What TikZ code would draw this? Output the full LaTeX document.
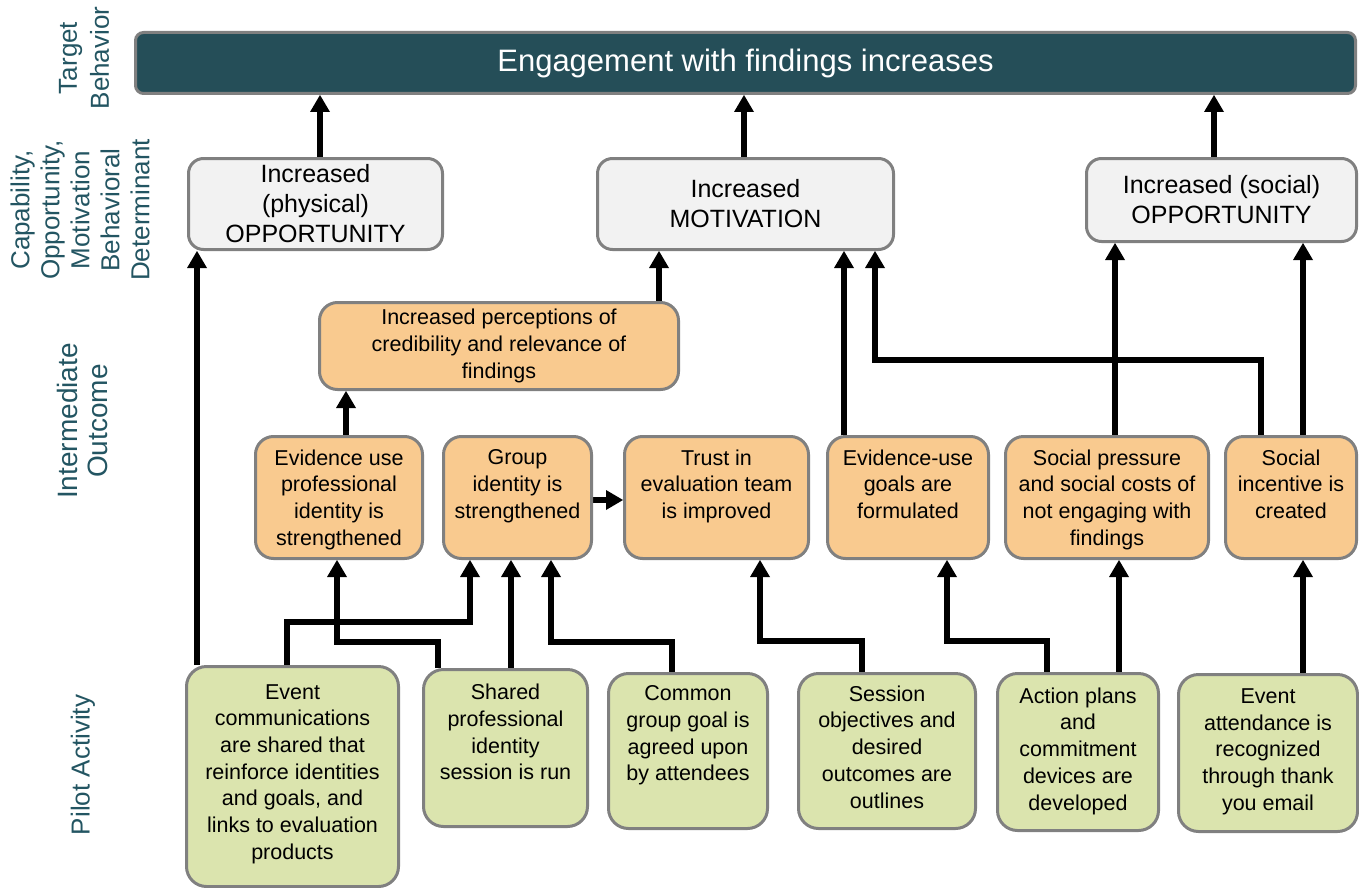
\documentclass[tikz,border=0pt]{standalone}
\usepackage{fontspec}
\setmainfont{Liberation Sans}
\usetikzlibrary{arrows.meta,calc}
\pgfdeclarelayer{bg}
\pgfsetlayers{bg,main}
\definecolor{topfill}{RGB}{37,78,88}
\definecolor{bordgray}{RGB}{128,128,128}
\definecolor{greyfill}{RGB}{242,242,242}
\definecolor{orangefill}{RGB}{249,202,143}
\definecolor{greenfill}{RGB}{219,228,174}
\definecolor{lblcol}{RGB}{35,85,98}
\tikzset{
  basebox/.style={draw=bordgray, line width=3pt, inner sep=0pt},
  topbox/.style={basebox, fill=topfill, rounded corners=8pt},
  topboxtxt/.style={inner sep=0pt, text=white, font=\fontsize{31}{36}\selectfont},
  greybox/.style={basebox, fill=greyfill, rounded corners=15pt},
  greyboxtxt/.style={inner sep=0pt, align=center, font=\fontsize{25}{30}\selectfont},
  orangebox/.style={basebox, fill=orangefill, rounded corners=18pt},
  orangeboxtxt/.style={inner sep=0pt, align=center, font=\fontsize{21.5}{26.7}\selectfont},
  greenbox/.style={basebox, fill=greenfill, rounded corners=20pt},
  greenboxtxt/.style={inner sep=0pt, align=center, font=\fontsize{21.5}{26.7}\selectfont},
  lbl/.style={inner sep=0pt, align=center, rotate=90, text=lblcol, font=\fontsize{26}{30}\selectfont},
  conn/.style={line width=6pt, line join=miter, -{Triangle[width=20pt,length=17pt,line width=0pt]}},
}
% name, style, x, y, width, height, text  (text centred)
\newcommand\boxC[7]{%
  \node[#2, anchor=north west, minimum width=#5pt, minimum height=#6pt] (#1) at (#3,#4) {};
  \node[#2txt] (#1t) at (#1.center) {#7};}
% name, style, x, y, width, height, pad, text (text top aligned)
\newcommand\boxT[8]{%
  \node[#2, anchor=north west, minimum width=#5pt, minimum height=#6pt] (#1) at (#3,#4) {};
  \node[#2txt, anchor=north] (#1t) at ([yshift=-#7pt]#1.north) {#8};}
\begin{document}
\begin{tikzpicture}[x=1pt,y=-1pt]
\useasboundingbox (0,0) rectangle (1359,888);

% left labels
\node[lbl, font=\fontsize{26}{32}\selectfont] (l1) at (84,58) {Target\\Behavior};
\node[lbl] (l2) at (80,210) {Capability,\\Opportunity,\\Motivation\\Behavioral\\Determinant};
\node[lbl, font=\fontsize{28}{30}\selectfont] (l3) at (82,421) {Intermediate\\Outcome};
\node[lbl] (l4) at (83,765) {Pilot Activity};

% target behaviour
\boxC{top}{topbox}{134}{31}{1220}{61}{Engagement with findings increases}

% determinants
\boxC{opp1}{greybox}{187}{157}{254}{91}{Increased\\(physical)\\OPPORTUNITY}
\boxC{mot}{greybox}{596}{157}{296}{91}{Increased\\MOTIVATION}
\boxC{opp2}{greybox}{1085}{157}{270}{83}{Increased (social)\\OPPORTUNITY}

% intermediate outcomes
\boxC{perc}{orangebox}{318}{301}{359}{87}{Increased perceptions of\\credibility and relevance of\\findings}
\boxT{eu}{orangebox}{254}{435}{167}{122}{14.5}{Evidence use\\professional\\identity is\\strengthened}
\boxT{gi}{orangebox}{442}{435}{148}{122}{14.5}{Group\\identity is\\strengthened}
\boxT{te}{orangebox}{623}{435}{184}{122}{14.5}{Trust in\\evaluation team\\is improved}
\boxT{eg}{orangebox}{826}{435}{161}{122}{14.5}{Evidence-use\\goals are\\formulated}
\boxT{sp}{orangebox}{1004}{435}{203}{122}{14.5}{Social pressure\\and social costs of\\not engaging with\\findings}
\boxT{si}{orangebox}{1224}{435}{131}{122}{14.5}{Social\\incentive is\\created}

% pilot activities
\boxT{ec}{greenbox}{185}{665}{212}{220}{19}{Event\\communications\\are shared that\\reinforce identities\\and goals, and\\links to evaluation\\products}
\boxT{spi}{greenbox}{422}{668}{164}{157}{16}{Shared\\professional\\identity\\session is run}
\boxT{cg}{greenbox}{607}{672}{159}{155}{13.5}{Common\\group goal is\\agreed upon\\by attendees}
\boxT{so}{greenbox}{797}{672}{177}{155}{13.5}{Session\\objectives and\\desired\\outcomes are\\outlines}
\boxT{ap}{greenbox}{996}{672}{161}{157}{15.5}{Action plans\\and\\commitment\\devices are\\developed}
\boxT{ea}{greenbox}{1177}{673}{179}{157}{15.5}{Event\\attendance is\\recognized\\through thank\\you email}

\begin{pgfonlayer}{bg}
% determinants -> target
\draw[conn] (320,0 |- opp1.north) -- (320,0 |- top.south);
\draw[conn] (744,0 |- mot.north) -- (744,0 |- top.south);
\draw[conn] (1214,0 |- opp2.north) -- (1214,0 |- top.south);
% intermediate -> determinants
\draw[conn] (659,0 |- perc.north) -- (659,0 |- mot.south);
\draw[conn] (844,0 |- eg.north) -- (844,0 |- mot.south);
\draw[conn] (1261,0 |- si.north) -- (1261,360) -- (875,360) -- (875,0 |- mot.south);
\draw[conn] (1115,0 |- sp.north) -- (1115,0 |- opp2.south);
\draw[conn] (1303,0 |- si.north) -- (1303,0 |- opp2.south);
\draw[conn] (346,0 |- eu.north) -- (346,0 |- perc.south);
\draw[conn] (gi.east |- 0,500) -- (te.west |- 0,500);
% activities -> outcomes
\draw[conn] (197,0 |- ec.north) -- (197,0 |- opp1.south);
\draw[conn] (287,0 |- ec.north) -- (287,622) -- (470,622) -- (470,0 |- gi.south);
\draw[conn] (438,0 |- spi.north) -- (438,642) -- (337,642) -- (337,0 |- eu.south);
\draw[conn] (511,0 |- spi.north) -- (511,0 |- gi.south);
\draw[conn] (672,0 |- cg.north) -- (672,642) -- (551,642) -- (551,0 |- gi.south);
\draw[conn] (862,0 |- so.north) -- (862,641) -- (760,641) -- (760,0 |- te.south);
\draw[conn] (1047,0 |- ap.north) -- (1047,641) -- (947,641) -- (947,0 |- eg.south);
\draw[conn] (1119,0 |- ap.north) -- (1119,0 |- sp.south);
\draw[conn] (1303,0 |- ea.north) -- (1303,0 |- si.south);
\end{pgfonlayer}
\end{tikzpicture}
\end{document}
